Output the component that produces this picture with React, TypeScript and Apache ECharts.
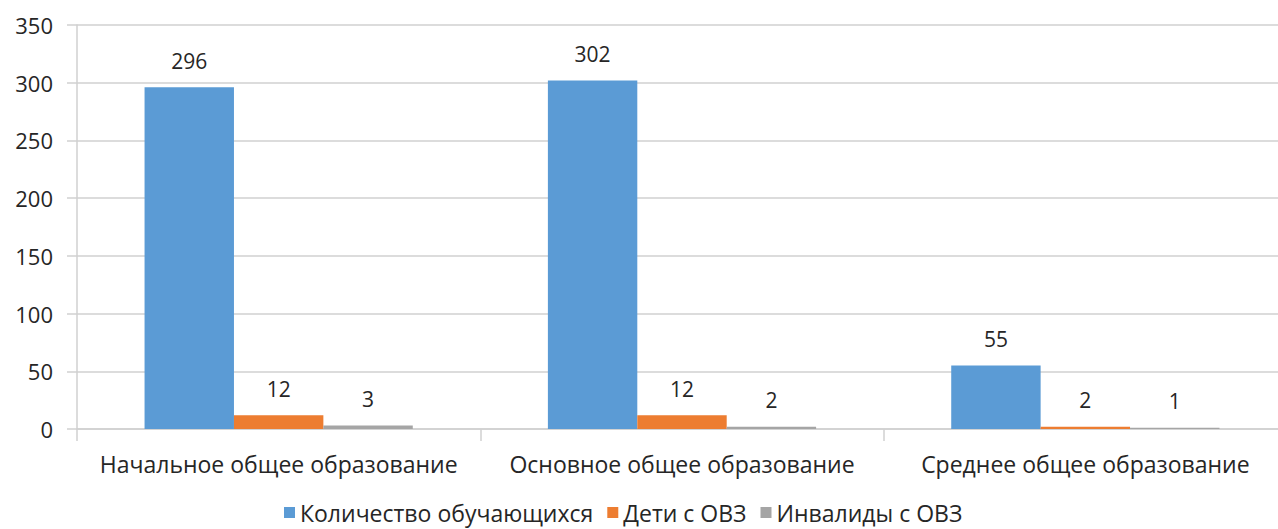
import React, { useEffect, useRef } from "react";
import * as echarts from "echarts";

const categories = [
  "Начальное общее образование",
  "Основное общее образование",
  "Среднее общее образование",
];
const seriesNames = ["Количество обучающихся", "Дети с ОВЗ", "Инвалиды с ОВЗ"];
const students = [296, 302, 55];
const ovz = [12, 12, 2];
const disabled = [3, 2, 1];
const colors = ["#5B9BD5", "#ED7D31", "#A5A5A5"];

export default function App() {
  const ref = useRef<HTMLDivElement>(null);
  useEffect(() => {
    if (!ref.current) return;
    const chart = echarts.init(ref.current, null, { renderer: "svg" });
    const font = "'Open Sans', 'Noto Sans', sans-serif";
    const txt = "#262626";
    const data = [students, ovz, disabled];
    chart.setOption({
      animation: false,
      color: colors,
      textStyle: { fontFamily: font },
      grid: { left: 77, right: 0, top: 25, bottom: 100 },
      legend: {
        bottom: 5,
        left: 284,
        padding: 0,
        itemWidth: 11,
        itemHeight: 11,
        itemGap: 14,
        icon: "rect",
        textStyle: { fontSize: 23, color: txt, fontFamily: font },
        data: seriesNames,
      },
      xAxis: {
        type: "category",
        data: categories,
        axisLine: { show: true, lineStyle: { color: "#D0D0D0", width: 1.5 } },
        axisTick: { show: true, length: 12, lineStyle: { color: "#D0D0D0", width: 1.5 } },
        axisLabel: { interval: 0, fontSize: 23, color: txt, margin: 23, fontFamily: font },
      },
      yAxis: {
        type: "value",
        min: 0,
        max: 350,
        interval: 50,
        axisLine: { show: true, lineStyle: { color: "#D0D0D0", width: 1.5 } },
        axisTick: { show: true, length: 10, lineStyle: { color: "#D0D0D0", width: 1.5 } },
        splitLine: { show: true, lineStyle: { color: "#D0D0D0", width: 1.5 } },
        axisLabel: { fontSize: 22, color: txt, margin: 24, fontFamily: font },
      },
      series: seriesNames.map((name, i) => ({
        name,
        type: "bar",
        data: data[i],
        barGap: "0%",
        barCategoryGap: "33.5%",
        label: {
          show: true,
          position: "top",
          distance: 16,
          fontSize: 21,
          color: txt,
          fontFamily: font,
        },
      })),
    });
    return () => chart.dispose();
  }, []);
  return (
    <div
      ref={ref}
      style={{ position: "fixed", left: 0, top: 0, width: 1287, height: 529, background: "#fff" }}
    />
  );
}
